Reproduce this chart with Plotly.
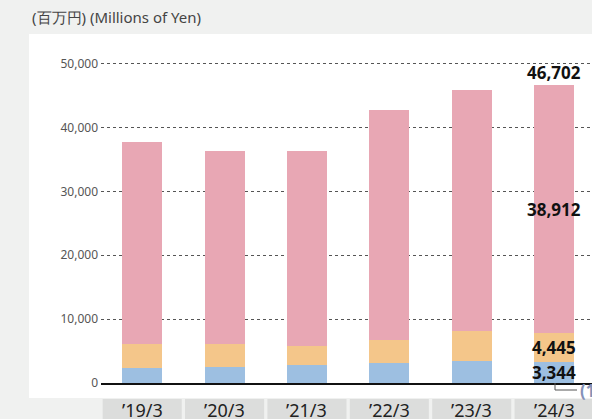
import plotly.graph_objects as go

categories = ["’19/3", "’20/3", "’21/3", "’22/3", "’23/3", "’24/3"]
blue_vals = [2290, 2440, 2760, 3180, 3380, 3344]
orange_vals = [3860, 3710, 3080, 3600, 4700, 4445]
pink_vals = [31650, 30250, 30560, 36020, 37820, 38912]
total_last = 46702
y_ticks = [0, 10000, 20000, 30000, 40000, 50000]
y_tick_labels = ["0", "10,000", "20,000", "30,000", "40,000", "50,000"]

BLUE = "#9dbfe1"
ORANGE = "#f4c68a"
PINK = "#e8a7b4"
FONT = "Noto Sans"

W, H = 592, 419
ML, MR, MT, MB = 101, 0, 34, 36
pw = W - ML - MR
ph = H - MT - MB

def px_x(p):
    return (p - ML) / pw

def px_y(p):
    return (H - MB - p) / ph

xs = list(range(len(categories)))

fig = go.Figure()
for vals, col in [(blue_vals, BLUE), (orange_vals, ORANGE), (pink_vals, PINK)]:
    fig.add_trace(go.Bar(x=xs, y=vals, marker=dict(color=col, line=dict(width=0)),
                         width=0.485, hoverinfo="skip"))

shapes = []
# white panel
shapes.append(dict(type="rect", xref="paper", yref="paper", x0=px_x(29), x1=1.01,
                   y0=px_y(398), y1=1, fillcolor="white", line=dict(width=0), layer="below"))
# category boxes
for i in xs:
    shapes.append(dict(type="rect", xref="x", yref="paper", x0=i - 0.48, x1=i + 0.48,
                       y0=px_y(419.5), y1=px_y(399), fillcolor="#dcdddc",
                       line=dict(width=0), layer="below"))
# callout line
shapes.append(dict(type="path", xref="paper", yref="paper",
                   path=f"M {px_x(555)} {px_y(383)} L {px_x(555)} {px_y(390)} L {px_x(577)} {px_y(390)}",
                   line=dict(color="#555555", width=1)))

annotations = []
for i, c in enumerate(categories):
    annotations.append(dict(x=i, xref="x", y=px_y(410), yref="paper", text=c, showarrow=False,
                            font=dict(family=FONT, size=18, color="#222222"),
                            xanchor="center", yanchor="middle"))

li = len(categories) - 1
lab_font = dict(family=FONT, size=17, color="#111111")
annotations.append(dict(x=li, y=total_last, text=f"<b>{total_last:,}</b>", showarrow=False,
                        font=lab_font, yanchor="bottom", yshift=-1))
b, o, p = blue_vals[li], orange_vals[li], pink_vals[li]
for val, mid in [(b, b / 2), (o, b + o / 2), (p, b + o + p / 2)]:
    annotations.append(dict(x=li, y=mid, text=f"<b>{val:,}</b>", showarrow=False,
                            font=lab_font, yanchor="middle"))
annotations.append(dict(x=px_x(578), xref="paper", y=px_y(390), yref="paper", text="<b>(1)</b>",
                        showarrow=False, xanchor="left", yanchor="middle",
                        font=dict(family=FONT, size=17, color="#8491b8")))
annotations.append(dict(x=px_x(30), xref="paper", y=px_y(17), yref="paper",
                        text="(百万円) (Millions of Yen)", showarrow=False,
                        xanchor="left", yanchor="middle",
                        font=dict(family=FONT, size=15, color="#444444")))

fig.update_layout(
    width=W, height=H,
    margin=dict(l=ML, r=MR, t=MT, b=MB, pad=0),
    paper_bgcolor="#f0f1f0", plot_bgcolor="rgba(0,0,0,0)",
    barmode="stack", bargap=0, showlegend=False,
    shapes=shapes, annotations=annotations,
    xaxis=dict(range=[-0.5, 5.46], showticklabels=False, showgrid=False, zeroline=False,
               showline=True, linecolor="#111111", linewidth=1.5, ticks="", fixedrange=True),
    yaxis=dict(range=[0, ph / 6.386 * 1000], tickvals=y_ticks, ticktext=y_tick_labels,
               showgrid=True, gridcolor="#555555", griddash="dot", gridwidth=1,
               zeroline=False, showline=False, ticks="", ticklabelstandoff=2,
               tickfont=dict(family=FONT, size=12, color="#555555"), fixedrange=True),
)
fig.write_html("out.html", config={"displayModeBar": False, "staticPlot": True},
               post_script="document.body.style.margin='0';document.body.style.overflow='hidden';document.body.style.background='#f0f1f0';")
